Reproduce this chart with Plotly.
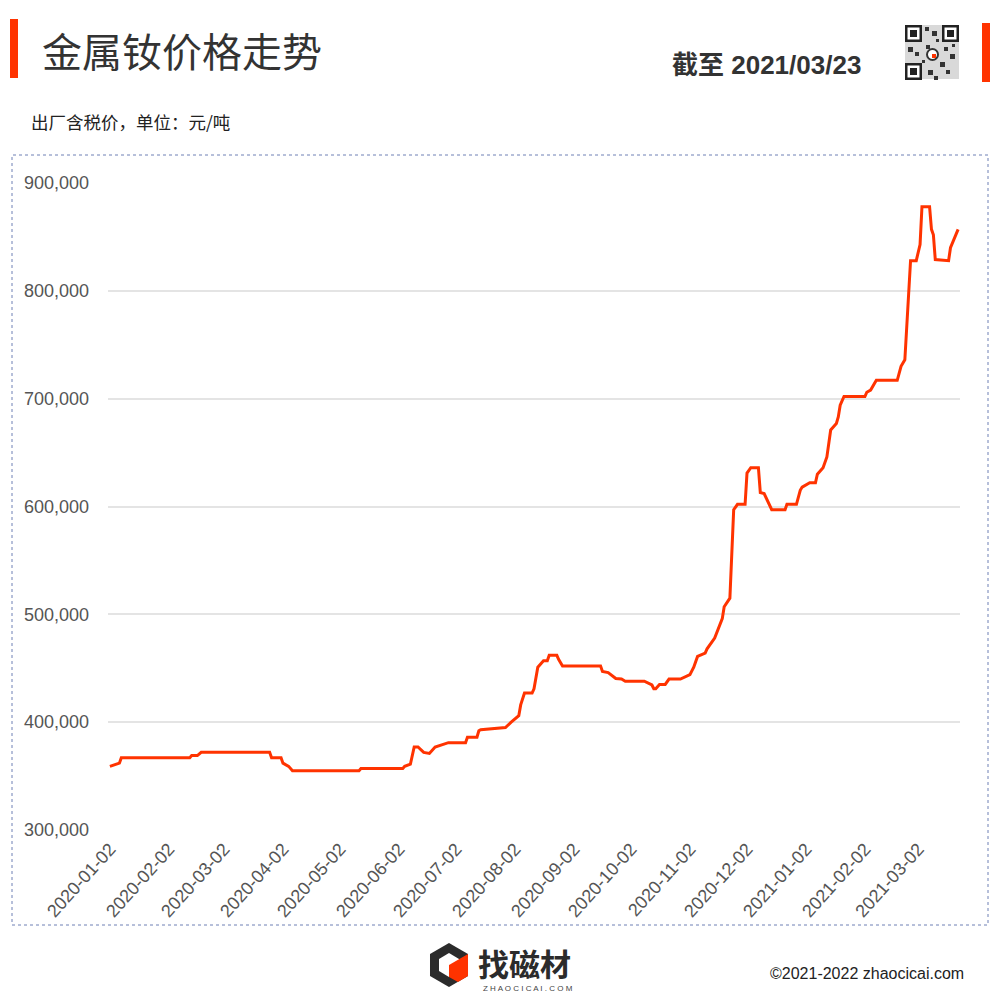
import plotly.graph_objects as go

# ---------------- data ----------------
dates = [
    "2020-01-02", "2020-01-07", "2020-01-08", "2020-02-13", "2020-02-14", "2020-02-17",
    "2020-02-19", "2020-03-26", "2020-03-27", "2020-04-01", "2020-04-02", "2020-04-05",
    "2020-04-07", "2020-05-12", "2020-05-13", "2020-06-04", "2020-06-05", "2020-06-08",
    "2020-06-10", "2020-06-12", "2020-06-15", "2020-06-18", "2020-06-21", "2020-06-27",
    "2020-06-28", "2020-07-07", "2020-07-08", "2020-07-13", "2020-07-14", "2020-07-15",
    "2020-07-28", "2020-07-31", "2020-08-02", "2020-08-04", "2020-08-05", "2020-08-07",
    "2020-08-11", "2020-08-12", "2020-08-14", "2020-08-17", "2020-08-19", "2020-08-20",
    "2020-08-24", "2020-08-25", "2020-08-27", "2020-09-16", "2020-09-17", "2020-09-20",
    "2020-09-24", "2020-09-27", "2020-09-29", "2020-10-09", "2020-10-13", "2020-10-14",
    "2020-10-15", "2020-10-17", "2020-10-20", "2020-10-22", "2020-10-28", "2020-11-02",
    "2020-11-04", "2020-11-06", "2020-11-10", "2020-11-11", "2020-11-15", "2020-11-17",
    "2020-11-19", "2020-11-20", "2020-11-23", "2020-11-25", "2020-11-27", "2020-12-01",
    "2020-12-02", "2020-12-04", "2020-12-08", "2020-12-09", "2020-12-11", "2020-12-15",
    "2020-12-22", "2020-12-23", "2020-12-28", "2020-12-30", "2020-12-31", "2021-01-04",
    "2021-01-07", "2021-01-08", "2021-01-11", "2021-01-13", "2021-01-14", "2021-01-15",
    "2021-01-18", "2021-01-19", "2021-01-20", "2021-01-22", "2021-02-02", "2021-02-03",
    "2021-02-05", "2021-02-08", "2021-02-19", "2021-02-21", "2021-02-23", "2021-02-24",
    "2021-02-25", "2021-02-26", "2021-03-01", "2021-03-03", "2021-03-04", "2021-03-08",
    "2021-03-09", "2021-03-10", "2021-03-11", "2021-03-18", "2021-03-19", "2021-03-23",
]
prices = [
    359000, 362000, 367000, 367000, 369000, 369000,
    372000, 372000, 367000, 367000, 362000, 359000,
    355000, 355000, 357000, 357000, 359000, 361000,
    377000, 377000, 372000, 371000, 377000, 380000,
    381000, 381000, 386000, 386000, 392000, 393000,
    395000, 400000, 403000, 406000, 416000, 427000,
    427000, 431000, 451000, 457000, 457000, 462000,
    462000, 458000, 452000, 452000, 447000, 446000,
    440500, 440000, 438000, 438000, 434500, 431000,
    431000, 435000, 435000, 440000, 440000, 444000,
    451000, 461000, 464000, 468000, 478000, 487000,
    496000, 507000, 515000, 597000, 602000, 602000,
    631000, 636000, 636000, 613000, 612000, 597000,
    597000, 602000, 602000, 615000, 618000, 622000,
    622000, 630000, 636000, 646000, 660000, 671000,
    677000, 683000, 694000, 702000, 702000, 706000,
    708000, 717000, 717000, 730000, 736000, 767000,
    787000, 828000, 828000, 843000, 878000, 878000,
    857000, 852000, 829000, 828000, 840000, 857000,
]
x_ticks = [
    "2020-01-02", "2020-02-02", "2020-03-02", "2020-04-02", "2020-05-02",
    "2020-06-02", "2020-07-02", "2020-08-02", "2020-09-02", "2020-10-02",
    "2020-11-02", "2020-12-02", "2021-01-02", "2021-02-02", "2021-03-02",
]
y_ticks = [300000, 400000, 500000, 600000, 700000, 800000, 900000]

title_text = "金属钕价格走势"
subtitle_text = "出厂含税价，单位：元/吨"
asof_text = "截至 2021/03/23"
copyright_text = "©2021-2022 zhaocicai.com"
brand_text = "找磁材"
brand_sub = "ZHAOCICAI.COM"

# ---------------- layout helpers ----------------
W, H = 1000, 1000
OFF = 8  # page body margin offset
# plot area in screen pixels
SX0, SX1, SY0, SY1 = 108, 960, 183, 830
L = SX0 - OFF
R = W - (SX1 - OFF)
T = SY0 - OFF
B = H - (SY1 - OFF)
PW, PH = W - L - R, H - T - B


def px(x):
    return (x - OFF - L) / PW


def py(y):
    return (H - B - (y - OFF)) / PH


RED = "#FF3300"
CJK = "Noto Sans CJK SC"
LAT = "Liberation Sans, Arial, sans-serif"

fig = go.Figure()
fig.add_trace(go.Scatter(
    x=dates, y=prices, mode="lines",
    line=dict(color=RED, width=3),
    hoverinfo="x+y", showlegend=False,
))

shapes = []
# frame (dotted)
shapes.append(dict(type="rect", xref="paper", yref="paper",
                   x0=px(12), x1=px(988), y0=py(925), y1=py(155),
                   line=dict(color="#6f80b5", width=1, dash="dot"), layer="below"))
# orange bars
shapes.append(dict(type="rect", xref="paper", yref="paper",
                   x0=px(10), x1=px(18), y0=py(78), y1=py(19),
                   fillcolor=RED, line=dict(width=0)))
shapes.append(dict(type="rect", xref="paper", yref="paper",
                   x0=px(982), x1=px(990), y0=py(82), y1=py(23),
                   fillcolor=RED, line=dict(width=0)))


# simplified QR code
def sq(x0, y0, s, color):
    return dict(type="rect", xref="paper", yref="paper",
                x0=px(x0), x1=px(x0 + s), y0=py(y0 + s), y1=py(y0),
                fillcolor=color, line=dict(width=0))


shapes.append(sq(905, 25, 54, "#d9d9d9"))
for (fx, fy) in [(905, 25), (942, 25), (905, 63)]:
    shapes.append(sq(fx, fy, 17, "#222222"))
    shapes.append(sq(fx + 2.5, fy + 2.5, 12, "#ffffff"))
    shapes.append(sq(fx + 5, fy + 5, 7, "#222222"))
for (mx, my, s) in [(925, 27, 4), (932, 31, 5), (926, 45, 4), (908, 47, 5), (915, 52, 4),
                    (944, 47, 4), (950, 54, 5), (940, 62, 5), (946, 70, 4), (928, 70, 5),
                    (934, 76, 4), (922, 60, 3), (952, 44, 3), (936, 39, 3)]:
    shapes.append(sq(mx, my, s, "#333333"))
shapes.append(dict(type="circle", xref="paper", yref="paper",
                   x0=px(927), x1=px(938), y0=py(60), y1=py(49),
                   fillcolor="#ffffff", line=dict(color="#333333", width=2)))
shapes.append(sq(932, 54, 4, RED))


# logo icon (hexagonal Q)
def path(points):
    return "M " + " L ".join(f"{px(a):.5f},{py(b):.5f}" for a, b in points) + " Z"


outer = [(449, 943), (468, 954), (468, 976), (449, 987), (430, 976), (430, 954)]
inner = [(449, 953), (459, 959), (459, 971), (449, 977), (439, 971), (439, 959)]
shapes.append(dict(type="path", xref="paper", yref="paper", path=path(outer),
                   fillcolor="#2b2b2b", line=dict(width=0)))
shapes.append(dict(type="path", xref="paper", yref="paper", path=path(inner),
                   fillcolor="#ffffff", line=dict(width=0)))
shapes.append(dict(type="path", xref="paper", yref="paper",
                   path=path([(449, 965), (468, 954), (468, 976), (458, 982), (449, 977)]),
                   fillcolor=RED, line=dict(width=0)))

annotations = [
    dict(text=title_text, x=px(40), y=py(50), xanchor="left", yanchor="middle",
         font=dict(family=CJK, size=40, color="#333333")),
    dict(text=subtitle_text, x=px(29), y=py(121), xanchor="left", yanchor="middle",
         font=dict(family=CJK, size=17.5, color="#222222")),
    dict(text="<b>" + asof_text + "</b>", x=px(863), y=py(65), xanchor="right", yanchor="middle",
         font=dict(family=LAT + ", " + CJK, size=26, color="#333333")),
    dict(text=copyright_text, x=px(966), y=py(973), xanchor="right", yanchor="middle",
         font=dict(family=LAT, size=16, color="#222222")),
    dict(text="<b>" + brand_text + "</b>", x=px(476), y=py(962), xanchor="left", yanchor="middle",
         font=dict(family=CJK, size=31, color="#2b2b2b")),
    dict(text=" ".join(brand_sub), x=px(481), y=py(988), xanchor="left", yanchor="middle",
         font=dict(family=LAT, size=8, color="#444444")),
]
for a in annotations:
    a.update(xref="paper", yref="paper", showarrow=False)

fig.update_layout(
    width=W, height=H, autosize=False,
    margin=dict(l=L, r=R, t=T, b=B, pad=0),
    paper_bgcolor="#ffffff", plot_bgcolor="#ffffff",
    shapes=shapes, annotations=annotations,
    showlegend=False,
    xaxis=dict(
        type="date", range=["2020-01-01", "2021-03-24"],
        tickvals=x_ticks, ticktext=x_ticks, tickangle=-48,
        showgrid=False, zeroline=False, showline=False,
        ticks="", ticklabelstandoff=4,
        tickfont=dict(family=LAT, size=18, color="#555555"),
    ),
    yaxis=dict(
        range=[300000, 900000], tickvals=y_ticks,
        ticktext=[f"{v:,}" for v in y_ticks],
        showgrid=True, gridcolor="#e4e4e4", gridwidth=1.5,
        zeroline=False, showline=False, ticks="", ticklabelstandoff=18,
        tickfont=dict(family=LAT, size=18, color="#555555"),
    ),
)

fig.write_html("out.html")
